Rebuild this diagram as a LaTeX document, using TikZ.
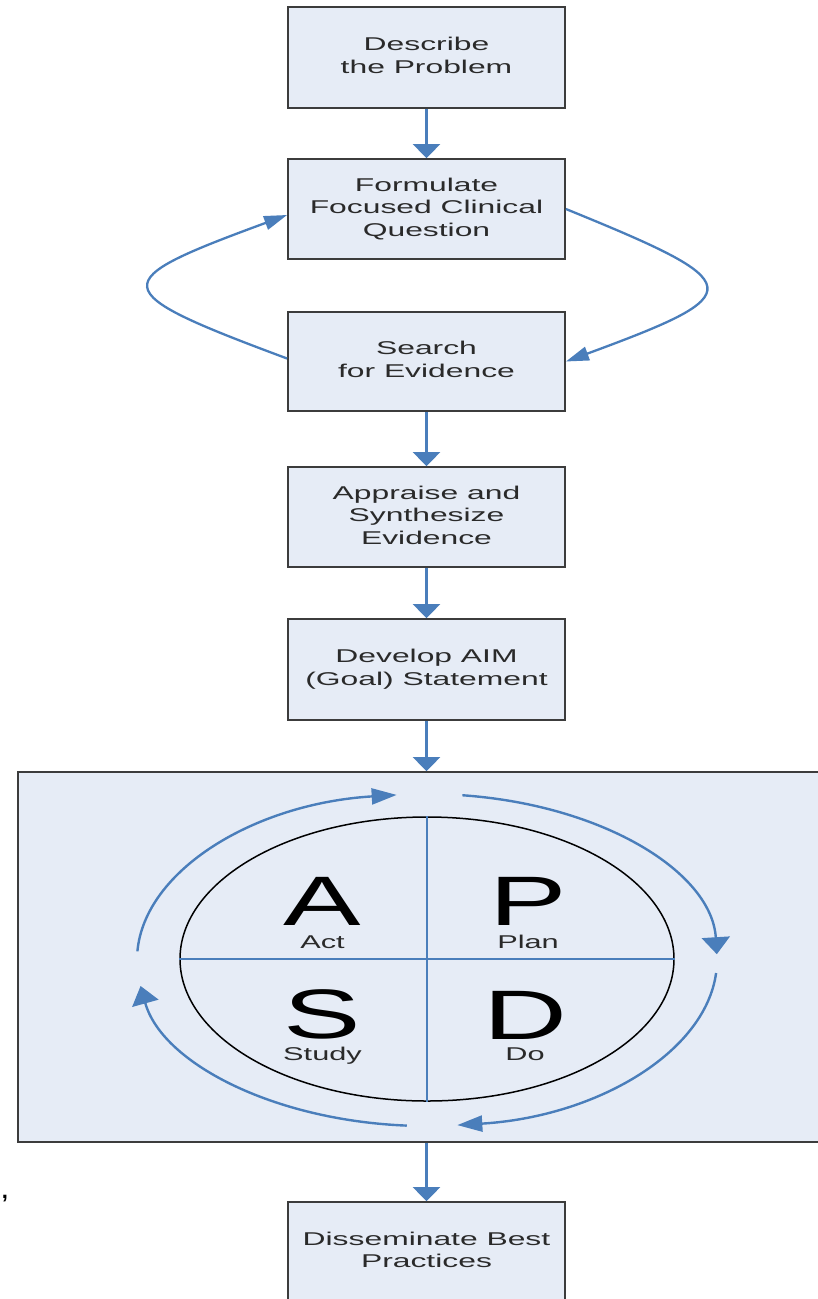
\documentclass[tikz,border=0pt]{standalone}
\usepackage{fontspec}
\usepackage{graphicx}
\setmainfont{Liberation Sans}
\usetikzlibrary{arrows.meta,shapes.geometric}
\definecolor{boxfill}{HTML}{E6ECF6}
\definecolor{boxline}{HTML}{3C3C3C}
\definecolor{arr}{HTML}{4A7EBB}
\definecolor{txt}{HTML}{2A2A2A}
\newcommand{\sx}[1]{\scalebox{1.72}[1]{\begin{tabular}{@{}c@{}}#1\end{tabular}}}
\newcommand{\pdsalbl}[3]{\scalebox{1.66}[1]{\shortstack{{\fontsize{70}{70}\selectfont\color{black}#1}\\{\fontsize{18.5}{18.5}\selectfont\color{txt}\rule{0pt}{#3}#2}}}}
\tikzset{
  stepbox/.style={draw=boxline, line width=1.8pt, fill=boxfill, minimum width=277pt,
    minimum height=100pt, inner sep=0pt, text=txt, font=\fontsize{18.5}{22.5}\selectfont},
  flow/.style={draw=arr, line width=3pt, -{Triangle[length=14pt,width=27pt]}},
  loopar/.style={draw=arr, line width=2.3pt, -{Triangle[length=23pt,width=14pt]}},
  cyc/.style={draw=arr, line width=2.4pt},
  quadlbl/.style={anchor=base, inner sep=0pt},
}
\begin{document}
\begin{tikzpicture}[x=1pt,y=-1pt]
\useasboundingbox (0,0) rectangle (818,1299);
\clip (0,0) rectangle (818,1299);
\fill[white] (0,0) rectangle (818,1299);

\node[stepbox, minimum height=101pt] (b1) at (426.5,57.5) {\sx{Describe\\the Problem}};
\node[stepbox] (b2) at (426.5,209) {\sx{Formulate\\Focused Clinical\\Question}};
\node[stepbox, minimum height=99pt] (b3) at (426.5,361.5) {\sx{Search\\for Evidence}};
\node[stepbox] (b4) at (426.5,517) {\sx{Appraise and\\Synthesize\\Evidence}};
\node[stepbox, minimum height=101pt] (b5) at (426.5,669.5) {\sx{Develop AIM\\(Goal) Statement}};
\node[draw=boxline, line width=1.8pt, fill=boxfill, minimum width=812pt, minimum height=370pt, inner sep=0pt] (pdsa) at (424,957) {};
\node[stepbox] (b6) at (426.5,1252) {\sx{Disseminate Best\\Practices}};

% vertical flow arrows
\draw[flow] (b1.south) -- (b2.north);
\draw[flow] (b3.south) -- (b4.north);
\draw[flow] (b4.south) -- (b5.north);
\draw[flow] (b5.south) -- (b5.south |- pdsa.north);
\draw[flow] (b6.north |- pdsa.south) -- (b6.north);

% loop between formulate and search
\draw[loopar] (b2.east) .. controls (750,284) and (752,293) .. (b3.east);
\draw[loopar] ([yshift=3pt]b3.west) .. controls (103,290) and (105,282) .. ([yshift=-6pt]b2.west);

% PDSA circle
\node[draw=black, line width=1.5pt, ellipse, minimum width=494pt, minimum height=284pt, inner sep=0pt] (circ) at (427,959) {};
\draw[draw=arr, line width=2.2pt] (circ.north) -- (circ.south);
\draw[draw=arr, line width=2.2pt] (circ.west) -- (circ.east);

% cycle arrows
\begin{scope}[shift={(427,960)}]
\draw[cyc, -{Triangle[length=25pt,width=16pt]}] (183:290 and 166) arc[start angle=183, end angle=264, x radius=290, y radius=166];
\draw[cyc, -{Triangle[length=17pt,width=28pt]}] (277:290 and 166) arc[start angle=277, end angle=358, x radius=290, y radius=166];
\draw[cyc, -{Triangle[length=25pt,width=16pt]}] (4.5:290 and 166) arc[start angle=4.5, end angle=84, x radius=290, y radius=166];
\draw[cyc, -{Triangle[length=18pt,width=27pt]}] (94:290 and 166) arc[start angle=94, end angle=171, x radius=290, y radius=166];
\end{scope}

% quadrant letters with labels
\node[quadlbl] (qA) at (322.5,948) {\pdsalbl{A}{Act}{20pt}};
\node[quadlbl] (qP) at (528,948) {\pdsalbl{P}{Plan}{20pt}};
\node[quadlbl] (qS) at (322.5,1060) {\pdsalbl{S}{Study}{18pt}};
\node[quadlbl] (qD) at (525,1060) {\pdsalbl{D}{Do}{18pt}};

% stray comma
\node[anchor=base, inner sep=0pt, text=black, font=\fontsize{22}{22}\selectfont\bfseries] (cm) at (5,1198) {,};
\end{tikzpicture}
\end{document}
